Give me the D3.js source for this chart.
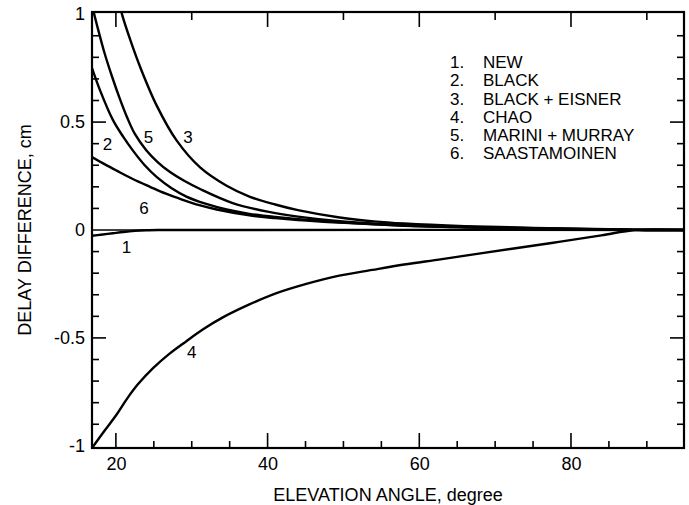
<!DOCTYPE html>
<html>
<head>
<meta charset="utf-8">
<script src="https://cdn.jsdelivr.net/npm/d3@7"></script>
<style>
  body { margin: 0; background: #fff; }
  text { font-family: "Liberation Sans", Arial, sans-serif; fill: #000; }
</style>
</head>
<body>
<div id="chart"></div>
<script>
// valori (angolo di elevazione in gradi, differenza in cm)
const curveNew = [[16.85, -0.027], [18, -0.022], [19.6, -0.015], [21, -0.009], [22.5, -0.004], [24, -0.001], [26, 0], [95, 0]];
const curveBlack = [[16.85, 0.75], [17.9, 0.648], [19.6, 0.51], [21, 0.43], [22.2, 0.37], [23.8, 0.30], [25.4, 0.245], [27.3, 0.195], [29.3, 0.155], [31.8, 0.122], [34.6, 0.095], [37.6, 0.075], [41, 0.06], [44, 0.05], [49.5, 0.036], [58, 0.021], [66, 0.013], [75, 0.007], [85, 0.003], [90, 0], [95, 0]];
const curveBlackEisner = [[20.6, 1.03], [20.8, 1.0], [22, 0.87], [23.2, 0.755], [25.4, 0.575], [28.0, 0.415], [31.1, 0.29], [34.6, 0.205], [37.6, 0.155], [41, 0.118], [44, 0.092], [49.5, 0.058], [54, 0.04], [58, 0.03], [66, 0.018], [75, 0.01], [85, 0.004], [90, 0], [95, 0]];
const curveChao = [[16.85, -1.01], [18.5, -0.93], [20.1, -0.855], [21.5, -0.78], [22.9, -0.715], [24.9, -0.64], [27, -0.575], [29.3, -0.515], [31.5, -0.46], [34.1, -0.405], [37.6, -0.345], [41, -0.295], [45.1, -0.25], [49, -0.215], [53.8, -0.185], [58, -0.16], [63, -0.135], [72, -0.088], [78.4, -0.055], [84, -0.025], [88.5, 0], [95, 0]];
const curveMariniMurray = [[16.85, 1.04], [17.5, 0.95], [18.5, 0.82], [19.5, 0.71], [20.5, 0.61], [21.5, 0.52], [22.5, 0.445], [24, 0.37], [25.5, 0.315], [27, 0.272], [29, 0.228], [31.1, 0.19], [35.4, 0.125], [40, 0.085], [44, 0.062], [49.5, 0.041], [58, 0.023], [66, 0.014], [75, 0.008], [85, 0.003], [90, 0], [95, 0]];
const curveSaastamoinen = [[16.85, 0.338], [18.5, 0.305], [20.1, 0.275], [22.3, 0.235], [24.5, 0.2], [26.6, 0.168], [28.8, 0.14], [31, 0.115], [33.3, 0.095], [37.6, 0.068], [41, 0.055], [44, 0.046], [49.5, 0.034], [58, 0.02], [66, 0.012], [75, 0.006], [85, 0.002], [90, 0], [95, 0]];

const seriesCurves = [curveNew, curveBlack, curveBlackEisner, curveChao, curveMariniMurray, curveSaastamoinen];

// etichette numeriche sulle curve (posizione in unità dei dati)
const curveLabels = ["1", "2", "3", "4", "5", "6"];
const curveLabelPos = [[21.4, -0.08], [18.9, 0.40], [29.5, 0.43], [30.0, -0.565], [24.3, 0.43], [23.7, 0.10]];

const legendNums = ["1.", "2.", "3.", "4.", "5.", "6."];
const legendNames = ["NEW", "BLACK", "BLACK + EISNER", "CHAO", "MARINI + MURRAY", "SAASTAMOINEN"];

const xMajorTicks = [20, 40, 60, 80];
const xMinorTicks = [25, 30, 35, 45, 50, 55, 65, 70, 75, 85, 90];
const xTopTicks = [20, 30, 40, 50, 60, 70, 80, 90];
const yMajorTicks = [-1, -0.5, 0, 0.5, 1];
const yTickLabels = ["-1", "-0.5", "0", "0.5", "1"];
const yMinorTicks = [-0.9, -0.8, -0.7, -0.6, -0.4, -0.3, -0.2, -0.1, 0.1, 0.2, 0.3, 0.4, 0.6, 0.7, 0.8, 0.9];

const width = 689, height = 505;
const plotLeft = 92, plotRight = 684, plotTop = 12, plotBottom = 448;

const svg = d3.select("#chart").append("svg")
    .attr("width", width)
    .attr("height", height);

const x = d3.scaleLinear().domain([16.85, 94.9]).range([plotLeft, plotRight]);
const y = d3.scaleLinear().domain([-1.01, 1.01]).range([plotBottom, plotTop]);

svg.append("defs").append("clipPath").attr("id", "plotClip")
    .append("rect")
    .attr("x", plotLeft).attr("y", plotTop)
    .attr("width", plotRight - plotLeft).attr("height", plotBottom - plotTop);

// linea dello zero
svg.append("line")
    .attr("x1", plotLeft).attr("x2", plotRight)
    .attr("y1", y(0)).attr("y2", y(0))
    .attr("stroke", "#000").attr("stroke-width", 1.6);

// curve
const line = d3.line()
    .x(d => x(d[0]))
    .y(d => y(d[1]))
    .curve(d3.curveCatmullRom.alpha(0.5));

svg.append("g").attr("clip-path", "url(#plotClip)")
    .selectAll("path")
    .data(seriesCurves)
    .join("path")
    .attr("d", line)
    .attr("fill", "none")
    .attr("stroke", "#000")
    .attr("stroke-width", 2.4);

// assi: sinistra e basso con etichette, destra e alto solo tacche
const axisLeft = d3.axisLeft(y).tickValues(yMajorTicks)
    .tickFormat((d, i) => yTickLabels[i]).tickSize(0).tickPadding(7);
svg.append("g").attr("transform", `translate(${plotLeft},0)`).call(axisLeft)
    .call(g => g.select(".domain").remove())
    .selectAll("text").attr("font-size", 18).attr("font-family", "Liberation Sans, Arial, sans-serif");

const axisBottom = d3.axisBottom(x).tickValues(xMajorTicks).tickSize(0).tickPadding(9);
svg.append("g").attr("transform", `translate(0,${plotBottom})`).call(axisBottom)
    .call(g => g.select(".domain").remove())
    .selectAll("text").attr("font-size", 18).attr("font-family", "Liberation Sans, Arial, sans-serif");

// tacche interne
const tickG = svg.append("g").attr("stroke", "#000").attr("stroke-width", 1.6);
function yTicks(values, len) {
    values.forEach(v => {
        tickG.append("line").attr("x1", plotLeft).attr("x2", plotLeft + len).attr("y1", y(v)).attr("y2", y(v));
        tickG.append("line").attr("x1", plotRight).attr("x2", plotRight - len).attr("y1", y(v)).attr("y2", y(v));
    });
}
yTicks(yMinorTicks, 7);
yTicks([-0.5, 0.5], 14);

xMinorTicks.forEach(v => {
    tickG.append("line").attr("x1", x(v)).attr("x2", x(v)).attr("y1", plotBottom).attr("y2", plotBottom - 7);
});
xMajorTicks.forEach(v => {
    tickG.append("line").attr("x1", x(v)).attr("x2", x(v)).attr("y1", plotBottom).attr("y2", plotBottom - 15);
});
xTopTicks.forEach(v => {
    const len = xMajorTicks.includes(v) ? 15 : 8;
    tickG.append("line").attr("x1", x(v)).attr("x2", x(v)).attr("y1", plotTop).attr("y2", plotTop + len);
});

// cornice
svg.append("rect")
    .attr("x", plotLeft).attr("y", plotTop)
    .attr("width", plotRight - plotLeft).attr("height", plotBottom - plotTop)
    .attr("fill", "none").attr("stroke", "#000").attr("stroke-width", 2.2);

// numeri sulle curve
svg.append("g").selectAll("text")
    .data(curveLabels)
    .join("text")
    .attr("x", (d, i) => x(curveLabelPos[i][0]))
    .attr("y", (d, i) => y(curveLabelPos[i][1]))
    .attr("dy", "0.35em")
    .attr("text-anchor", "middle")
    .attr("font-size", 17)
    .text(d => d);

// legenda
const legend = svg.append("g").attr("transform", "translate(450,62)");
legend.selectAll("text.num")
    .data(legendNums)
    .join("text")
    .attr("class", "num")
    .attr("x", 0)
    .attr("y", (d, i) => i * 18.3)
    .attr("dy", "0.35em")
    .attr("font-size", 17)
    .text(d => d);
legend.selectAll("text.name")
    .data(legendNames)
    .join("text")
    .attr("class", "name")
    .attr("x", 33)
    .attr("y", (d, i) => i * 18.3)
    .attr("dy", "0.35em")
    .attr("font-size", 17)
    .text(d => d);

// titoli degli assi
svg.append("text")
    .attr("x", (plotLeft + plotRight) / 2)
    .attr("y", 495)
    .attr("dy", "0.35em")
    .attr("text-anchor", "middle")
    .attr("font-size", 18)
    .text("ELEVATION ANGLE, degree");

svg.append("text")
    .attr("transform", `translate(25,${(plotTop + plotBottom) / 2}) rotate(-90)`)
    .attr("dy", "0.35em")
    .attr("text-anchor", "middle")
    .attr("font-size", 18)
    .text("DELAY DIFFERENCE, cm");
</script>
</body>
</html>
